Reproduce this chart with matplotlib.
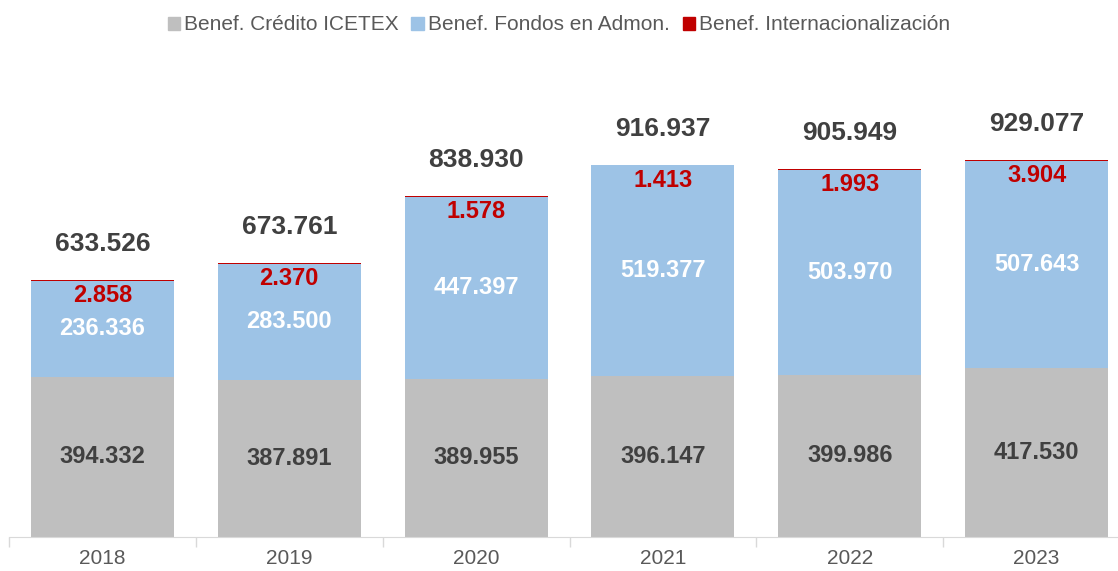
import matplotlib.pyplot as plt
import numpy as np
from matplotlib.patches import Patch

plt.rcParams['font.family'] = ['Liberation Sans', 'DejaVu Sans']

years = ["2018", "2019", "2020", "2021", "2022", "2023"]
credito = [394332, 387891, 389955, 396147, 399986, 417530]
fondos = [236336, 283500, 447397, 519377, 503970, 507643]
internac = [2858, 2370, 1578, 1413, 1993, 3904]
totales = [633526, 673761, 838930, 916937, 905949, 929077]

c_gray = "#BFBFBF"
c_blue = "#9DC3E6"
c_red = "#C00000"
c_text = "#404040"


def fmt(v):
    return f"{v:,}".replace(",", ".")


fig = plt.figure(figsize=(11.18, 5.71), dpi=100)
ax = fig.add_axes([9 / 1118, 34 / 571, 1 - 9 / 1118, 477 / 571])

x = np.arange(len(years))
w = 0.765
cred = np.array(credito)
fon = np.array(fondos)
ax.bar(x, cred, w, color=c_gray, label="Benef. Crédito ICETEX")
ax.bar(x, fon, w, bottom=cred, color=c_blue, label="Benef. Fondos en Admon.")
ax.bar(x, internac, w, bottom=cred + fon, color=c_red, label="Benef. Internacionalización")

for i in range(len(years)):
    ax.text(x[i], cred[i] / 2, fmt(credito[i]), ha="center", va="center",
            fontsize=17, fontweight="bold", color=c_text)
    ax.text(x[i], cred[i] + fon[i] / 2, fmt(fondos[i]), ha="center", va="center",
            fontsize=17, fontweight="bold", color="white")
    top = cred[i] + fon[i] + internac[i]
    ax.annotate(fmt(internac[i]), (x[i], top), xytext=(0, -11), textcoords="offset points",
                ha="center", va="center", fontsize=17, fontweight="bold", color=c_red)
    ax.annotate(fmt(totales[i]), (x[i], top), xytext=(0, 26), textcoords="offset points",
                ha="center", va="center", fontsize=19, fontweight="bold", color=c_text)

ax.set_yticks([])
ax.set_xticks(x)
ax.set_xticklabels(years, fontsize=15, color="#595959")
ax.set_xticks(np.arange(-0.5, 6, 1), minor=True)
ax.set_ylim(0, 1175000)
ax.set_xlim(-0.5, 5.5 - 12 / 186.8)
ax.tick_params(axis="x", which="major", length=0, pad=9)
ax.tick_params(axis="x", which="minor", length=7, color="#D9D9D9", width=1)
for s in ["top", "left", "right"]:
    ax.spines[s].set_visible(False)
ax.spines["bottom"].set_color("#D9D9D9")

handles = [Patch(color=c_gray), Patch(color=c_blue), Patch(color=c_red)]
labels = ["Benef. Crédito ICETEX", "Benef. Fondos en Admon.", "Benef. Internacionalización"]
fig.legend(handles, labels, loc="center", bbox_to_anchor=(0.5, 1 - 25 / 571), ncol=3,
           frameon=False, fontsize=15, handlelength=0.6, handleheight=0.6,
           handletextpad=0.2, columnspacing=0.6, labelcolor="#595959")

fig.savefig("out.png", dpi=100)
